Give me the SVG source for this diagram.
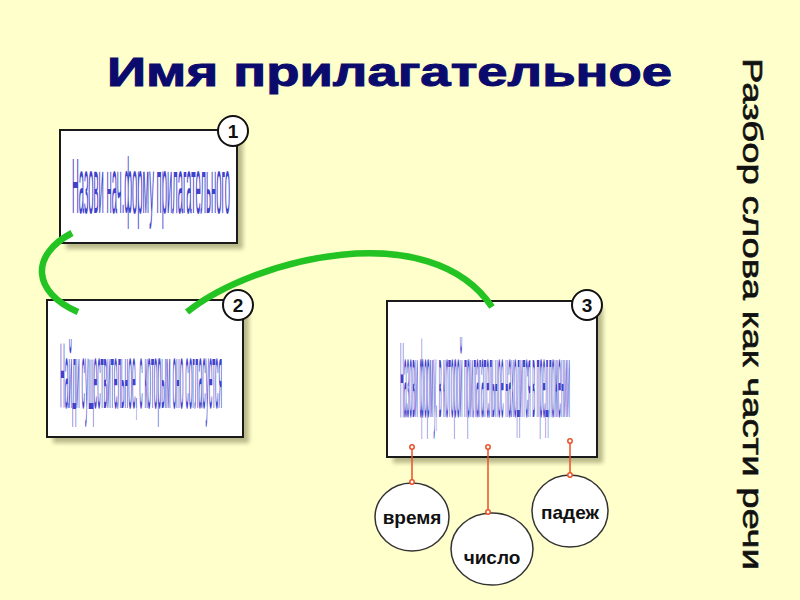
<svg xmlns="http://www.w3.org/2000/svg" width="800" height="600" viewBox="0 0 800 600">
<defs>
<filter id="sh" x="-10%" y="-10%" width="130%" height="130%">
<feGaussianBlur stdDeviation="2"/>
</filter>
</defs>
<style>
.box{fill:#ffffff;stroke:#1a1a1a;stroke-width:2}
.shadow{fill:#8a8a60;opacity:0.6;filter:url(#sh)}
.num{fill:#ffffff;stroke:#111;stroke-width:2}
.numt{font-family:"Liberation Sans",Arial,sans-serif;font-weight:bold;font-size:19px;fill:#111;text-anchor:middle}
.btxt{font-family:"Liberation Sans",Arial,sans-serif;font-size:12px;fill:#4141cc}
.green{fill:none;stroke:#22c322;stroke-width:6.5;stroke-linecap:butt}
.red{stroke:#e8502a;stroke-width:1.5}
.dot{fill:#ffffff;stroke:#e8502a;stroke-width:1.5}
.ell{fill:#ffffff;stroke:#333;stroke-width:1.5}
.etxt{font-family:"Liberation Sans",Arial,sans-serif;font-weight:bold;font-size:19px;fill:#111;text-anchor:middle}
</style>
<rect width="800" height="600" fill="#ffffcc"/>
<text x="107" y="86" font-family="Liberation Sans,Arial,sans-serif" font-weight="bold" font-size="40" fill="#0b0b6e" stroke="#0b0b6e" stroke-width="1" textLength="565" lengthAdjust="spacingAndGlyphs">Имя прилагательное</text>
<text transform="translate(743,58) rotate(90)" font-family="Liberation Sans,Arial,sans-serif" font-size="28" fill="#111" stroke="#111" stroke-width="0.6" textLength="512" lengthAdjust="spacingAndGlyphs">Разбор слова как части речи</text>

<g id="node1">
<rect class="shadow" x="66" y="136" width="177" height="113"/>
<rect class="box" x="60" y="130" width="177" height="113"/>
<text class="btxt" transform="translate(72,213) scale(1,6.5)" textLength="158" lengthAdjust="spacingAndGlyphs">Назови нач.форму прилагательного</text>
<circle class="num" cx="233" cy="131" r="15"/>
<text class="numt" x="233" y="138">1</text>
</g>

<g id="node2">
<rect class="shadow" x="53" y="306" width="196" height="137"/>
<rect class="box" x="47" y="300" width="196" height="137"/>
<text class="btxt" transform="translate(60,408) scale(1,7.8)" textLength="162" lengthAdjust="spacingAndGlyphs">Найди существительное, с которым оно согласуется</text>
<circle class="num" cx="238" cy="305" r="15"/>
<text class="numt" x="238" y="312">2</text>
</g>

<g id="node3">
<rect class="shadow" x="393" y="307" width="210" height="156"/>
<rect class="box" x="387" y="301" width="210" height="156"/>
<text class="btxt" transform="translate(400,417) scale(1,9)" textLength="170" lengthAdjust="spacingAndGlyphs">Назови форму, в которой прилагательное находится в предложении</text>
<circle class="num" cx="587" cy="305" r="15"/>
<text class="numt" x="587" y="312">3</text>
</g>

<g id="node-vremya">
<ellipse class="ell" cx="412" cy="517" rx="37" ry="34"/>
<text class="etxt" x="412" y="524">время</text>
</g>
<g id="node-chislo">
<ellipse class="ell" cx="492" cy="549" rx="41" ry="36"/>
<text class="etxt" x="492" y="564">число</text>
</g>
<g id="node-padezh">
<ellipse class="ell" cx="570" cy="511" rx="38" ry="36"/>
<text class="etxt" x="570" y="519">падеж</text>
</g>

<g id="connectors">
<path class="green" d="M72 233 C30 255 32 292 78 312"/>
<path class="green" d="M187 312 C255 258 430 215 492 307"/>
<line class="red" x1="412" y1="447" x2="412" y2="482"/>
<line class="red" x1="488" y1="447" x2="488" y2="512"/>
<line class="red" x1="570" y1="441" x2="570" y2="475"/>
<circle class="dot" cx="412" cy="447" r="2.2"/>
<circle class="dot" cx="412" cy="482" r="2.2"/>
<circle class="dot" cx="488" cy="447" r="2.2"/>
<circle class="dot" cx="488" cy="512" r="2.2"/>
<circle class="dot" cx="570" cy="441" r="2.2"/>
<circle class="dot" cx="570" cy="475" r="2.2"/>
</g>
</svg>
